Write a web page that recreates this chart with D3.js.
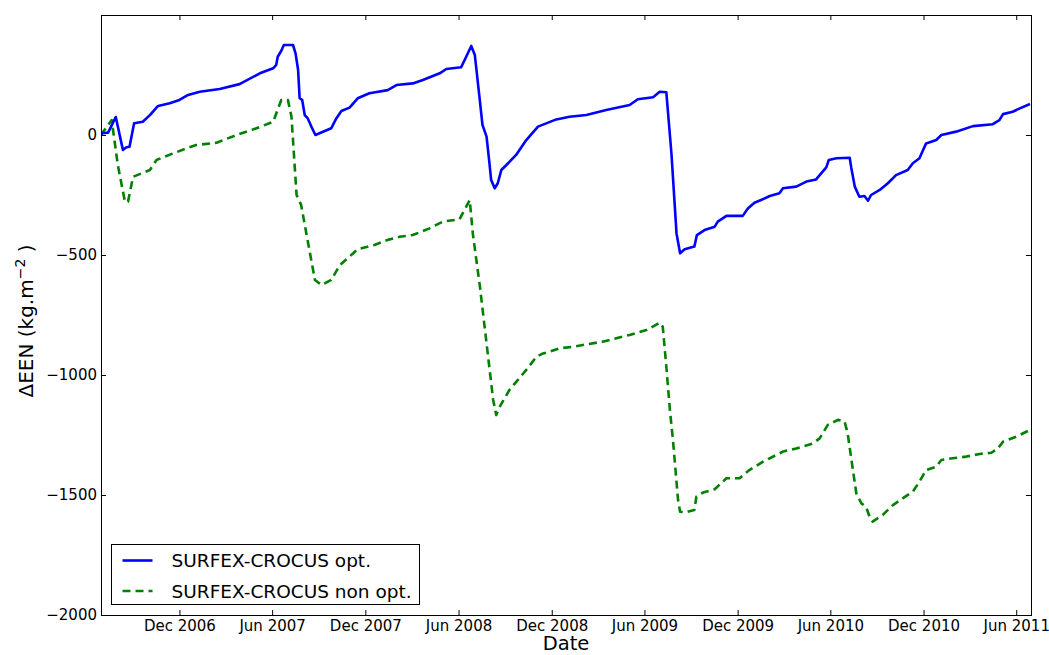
<!DOCTYPE html>
<html>
<head>
<meta charset="utf-8">
<script src="https://cdn.jsdelivr.net/npm/d3@7"></script>
<style>
  html, body { margin: 0; padding: 0; background: #fff; }
  #container { width: 1049px; height: 655px; }
  svg { display: block; font-family: 'DejaVu Sans', sans-serif; }
</style>
</head>
<body>
<div id="container"></div>
<script>
// SWE anomaly: SURFEX-CROCUS opt. vs non opt.

//_____ DATA _____
// day numbers counted from 30 June 2006, values in kg.m-2
const startDate = '2006-06-30';

const optDays = [ 0, 2, 14, 29, 43, 50, 56, 65, 82, 96, 112, 135, 154, 171, 194, 233, 272, 312, 338, 344, 347, 354, 359, 377, 382, 387, 390, 395, 400, 406, 413, 421, 452, 462, 472, 488, 504, 527, 563, 580, 612, 632, 665, 678, 707, 717, 727, 734, 743, 749, 757, 762, 766, 773, 779, 786, 796, 815, 835, 858, 894, 920, 953, 992, 1038, 1054, 1084, 1097, 1110, 1120, 1130, 1137, 1146, 1165, 1170, 1185, 1205, 1211, 1228, 1260, 1270, 1283, 1296, 1313, 1332, 1339, 1365, 1385, 1404, 1414, 1424, 1429, 1444, 1470, 1473, 1480, 1489, 1499, 1506, 1512, 1529, 1545, 1561, 1584, 1594, 1607, 1620, 1640, 1650, 1679, 1712, 1751, 1764, 1771, 1790, 1804, 1824 ];
const optValues = [ 0, 7, 10, 75, -62, -51, -49, 49, 55, 83, 121, 132, 146, 167, 180, 192, 212, 257, 278, 292, 326, 351, 375, 375, 340, 271, 153, 146, 83, 69, 35, 0, 28, 69, 100, 114, 153, 174, 187, 208, 215, 229, 257, 275, 282, 326, 371, 333, 160, 42, -7, -104, -187, -222, -201, -146, -125, -83, -21, 35, 65, 76, 83, 104, 125, 149, 157, 180, 178, -76, -410, -493, -476, -465, -417, -396, -382, -361, -337, -337, -306, -282, -271, -254, -243, -222, -215, -194, -185, -160, -135, -104, -97, -95, -135, -215, -257, -254, -274, -250, -229, -201, -167, -146, -118, -97, -35, -21, 0, 14, 37, 45, 62, 87, 97, 111, 129 ];

const nonOptDays = [ 0, 2, 21, 33, 47, 53, 63, 96, 109, 168, 187, 227, 266, 305, 338, 354, 367, 374, 384, 393, 420, 433, 452, 469, 504, 537, 563, 586, 612, 645, 671, 704, 724, 730, 744, 757, 770, 776, 783, 802, 835, 855, 868, 881, 900, 927, 985, 1038, 1071, 1097, 1103, 1110, 1117, 1123, 1133, 1137, 1149, 1165, 1169, 1182, 1205, 1228, 1254, 1273, 1300, 1339, 1365, 1398, 1411, 1427, 1447, 1460, 1466, 1473, 1483, 1493, 1502, 1509, 1515, 1535, 1555, 1574, 1594, 1607, 1620, 1640, 1650, 1672, 1699, 1725, 1748, 1761, 1771, 1797, 1824 ];
const nonOptValues = [ 0, 7, 62, -125, -278, -278, -174, -146, -104, -55, -42, -32, 0, 28, 55, 146, 146, 76, -250, -292, -604, -625, -604, -542, -476, -458, -437, -424, -417, -389, -361, -351, -271, -410, -632, -868, -1104, -1167, -1132, -1062, -979, -924, -910, -903, -889, -882, -861, -833, -813, -782, -799, -965, -1146, -1271, -1521, -1570, -1572, -1562, -1507, -1490, -1476, -1430, -1430, -1396, -1361, -1319, -1306, -1285, -1264, -1208, -1187, -1194, -1243, -1347, -1493, -1535, -1549, -1590, -1611, -1583, -1542, -1514, -1486, -1444, -1396, -1382, -1354, -1347, -1340, -1329, -1324, -1306, -1278, -1257, -1229 ];

const xTickDates = [ '2006-12-01', '2007-06-01', '2007-12-01', '2008-06-01', '2008-12-01', '2009-06-01', '2009-12-01', '2010-06-01', '2010-12-01', '2011-06-01' ];
const yTickValues = [ -2000, -1500, -1000, -500, 0 ];
const seriesNames = [ 'SURFEX-CROCUS opt.', 'SURFEX-CROCUS non opt.' ];


//_____ VARIABLES _____
const margin = { top: 15, right: 18, bottom: 40, left: 101 };
const width = 930;
const height = 600;
const parseDate = d3.utcParse( '%Y-%m-%d' );
const base = parseDate( startDate );

const toPoints = ( days, values ) => days.map( ( d, i ) => ( { date: d3.utcDay.offset( base, d ), value: values[ i ] } ) );
const series = [
  { name: seriesNames[ 0 ], color: '#0000ff', dash: null, points: toPoints( optDays, optValues ) },
  { name: seriesNames[ 1 ], color: '#008000', dash: '8,5', points: toPoints( nonOptDays, nonOptValues ) }
];


//_____ SCALES _____
const xScale = d3.scaleUtc()
  .domain( [ base, parseDate( '2011-06-30' ) ] )
  .range( [ 0, width ] );

const yScale = d3.scaleLinear()
  .domain( [ -2000, 500 ] )
  .range( [ height, 0 ] );


//_____ SVG _____
const svg = d3.select( '#container' )
  .append( 'svg' )
  .attr( 'width', 1049 )
  .attr( 'height', 655 );

const g = svg.append( 'g' )
  .attr( 'transform', `translate(${margin.left}, ${margin.top})` );


//_____ LINES _____
const line = d3.line()
  .x( d => xScale( d.date ) )
  .y( d => yScale( d.value ) );

const clip = g.append( 'clipPath' ).attr( 'id', 'plot-clip' );
clip.append( 'rect' ).attr( 'width', width ).attr( 'height', height );

g.append( 'g' )
  .attr( 'clip-path', 'url(#plot-clip)' )
  .selectAll( 'path' )
  .data( series.slice().reverse() )
  .enter()
  .append( 'path' )
  .attr( 'd', d => line( d.points ) )
  .attr( 'fill', 'none' )
  .attr( 'stroke', d => d.color )
  .attr( 'stroke-width', 2.6 )
  .attr( 'stroke-linejoin', 'round' )
  .attr( 'stroke-dasharray', d => d.dash );


//_____ AXES _____
const xTicks = xTickDates.map( parseDate );

g.append( 'g' )
  .attr( 'transform', `translate(0, ${height})` )
  .call( d3.axisBottom( xScale ).tickValues( xTicks ).tickSize( -5 ).tickPadding( 5 ).tickFormat( d3.utcFormat( '%b %Y' ) ) );

g.append( 'g' )
  .call( d3.axisTop( xScale ).tickValues( xTicks ).tickSize( -5 ).tickFormat( '' ) );

g.append( 'g' )
  .call( d3.axisLeft( yScale ).tickValues( yTickValues ).tickSize( -5 ).tickPadding( 4 ).tickFormat( d3.format( 'd' ) ) );

g.append( 'g' )
  .attr( 'transform', `translate(${width}, 0)` )
  .call( d3.axisRight( yScale ).tickValues( yTickValues ).tickSize( -5 ).tickFormat( '' ) );

g.selectAll( '.domain' ).remove();
g.selectAll( '.tick line' ).attr( 'stroke', '#000' );
g.selectAll( '.tick text' )
  .attr( 'fill', '#000' )
  .style( 'font-size', '15px' )
  .style( 'font-family', "'DejaVu Sans', sans-serif" );

//>>> Frame
g.append( 'rect' )
  .attr( 'x', 0.5 )
  .attr( 'y', 0.5 )
  .attr( 'width', width )
  .attr( 'height', height )
  .attr( 'fill', 'none' )
  .attr( 'stroke', '#000' )
  .attr( 'stroke-width', 1 );


//_____ AXES LABELS _____
svg.append( 'text' )
  .attr( 'x', margin.left + width / 2 )
  .attr( 'y', 649.5 )
  .attr( 'text-anchor', 'middle' )
  .style( 'font-size', '19.5px' )
  .text( 'Date' );

const yLabel = svg.append( 'text' )
  .attr( 'transform', `translate(33, ${margin.top + height / 2 + 6}) rotate(-90)` )
  .attr( 'text-anchor', 'middle' )
  .style( 'font-size', '20px' );
yLabel.append( 'tspan' ).text( '\u0394EEN (kg.m' );
yLabel.append( 'tspan' ).attr( 'dy', -8 ).style( 'font-size', '14px' ).text( '\u22122' );
yLabel.append( 'tspan' ).attr( 'dy', 8 ).text( ' )' );


//_____ LEGEND _____
const legend = g.append( 'g' )
  .attr( 'transform', 'translate(10.5, 529.5)' );

legend.append( 'rect' )
  .attr( 'width', 308 )
  .attr( 'height', 60 )
  .attr( 'fill', '#fff' )
  .attr( 'stroke', '#000' );

series.forEach( ( s, i ) => {
  legend.append( 'line' )
    .attr( 'x1', 11 )
    .attr( 'x2', 41 )
    .attr( 'y1', 16 + i * 30.5 )
    .attr( 'y2', 16 + i * 30.5 )
    .attr( 'stroke', s.color )
    .attr( 'stroke-width', 2.6 )
    .attr( 'stroke-dasharray', s.dash );

  legend.append( 'text' )
    .attr( 'x', 60 )
    .attr( 'y', 22.5 + i * 30.5 )
    .style( 'font-size', '18.5px' )
    .text( s.name );
} );
</script>
</body>
</html>
